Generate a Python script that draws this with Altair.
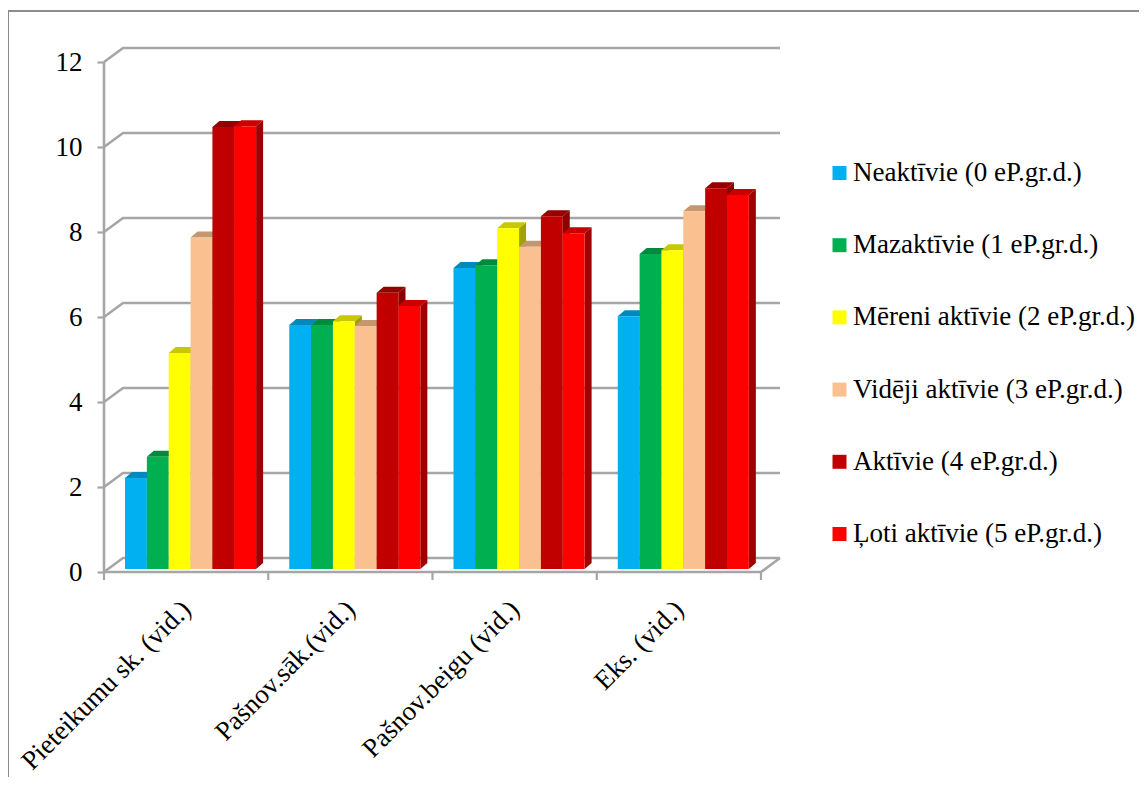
import json
import altair as alt

categories = ["Pieteikumu sk. (vid.)", "Pašnov.sāk.(vid.)", "Pašnov.beigu (vid.)", "Eks. (vid.)"]
series = ["Neaktīvie (0 eP.gr.d.)", "Mazaktīvie (1 eP.gr.d.)", "Mēreni aktīvie (2 eP.gr.d.)",
          "Vidēji aktīvie (3 eP.gr.d.)", "Aktīvie (4 eP.gr.d.)", "Ļoti aktīvie (5 eP.gr.d.)"]
neaktivie = [2.14, 5.74, 7.08, 5.95]
mazaktivie = [2.64, 5.74, 7.15, 7.41]
mereni = [5.08, 5.83, 8.02, 7.50]
videji = [7.80, 5.72, 7.58, 8.42]
aktivie = [10.40, 6.50, 8.30, 8.96]
loti = [10.42, 6.19, 7.90, 8.80]
all_values = [neaktivie, mazaktivie, mereni, videji, aktivie, loti]
front_colors = ["#00B0F0", "#00B050", "#FFFF00", "#FAC090", "#C00000", "#FF0000"]
top_colors = ["#008ABC", "#008A3E", "#C8C800", "#C49771", "#960000", "#C80000"]
side_colors = ["#006F98", "#006F32", "#A1A100", "#9E7A5B", "#8C0000", "#A00000"]
y_ticks = [0, 2, 4, 6, 8, 10, 12]

# scale geometry: px per unit
PX_X, PX_Y = 164.25, 42.5
W, H = 677, 525
wall_dx, wall_dy = 19 / PX_X, 14 / PX_Y      # depth of the 3-D box
bar_dx, bar_dy = 7 / PX_X, 6 / PX_Y          # depth of a bar
bar_w = 21.85 / PX_X
gap = 21 / PX_X
base = 3 / PX_Y

xs = alt.Scale(domain=[0, W / PX_X], nice=False, zero=False)
ys = alt.Scale(domain=[0, H / PX_Y], nice=False, zero=False)

front, tops, sides = [], [], []
for g in range(len(categories)):
    for s, vals in enumerate(all_values):
        v = vals[g] + base
        x0 = g + gap + s * bar_w
        x1 = x0 + bar_w
        i = f"{g}-{s}"
        front.append(dict(x=x0, x2=x1, y=base, y2=v, name=series[s]))
        for xx, a, b in [(x0, v, v), (x0 + bar_dx, v, v + bar_dy),
                         (x1, v, v + bar_dy), (x1 + bar_dx, v + bar_dy, v + bar_dy)]:
            tops.append(dict(x=xx, y=a, y2=b, id=i, c=top_colors[s]))
        for xx, a, b in [(x1, base, v), (x1 + bar_dx, base + bar_dy, v + bar_dy)]:
            sides.append(dict(x=xx, y=a, y2=b, id=i, c=side_colors[s]))

lines = []
right = len(categories)
for t in y_ticks:
    lines += [dict(x=0, y=t, id=f"g{t}"), dict(x=wall_dx, y=t + wall_dy, id=f"g{t}"),
              dict(x=right + wall_dx, y=t + wall_dy, id=f"g{t}")]
lines += [dict(x=0, y=0, id="floor"), dict(x=right, y=0, id="floor"),
          dict(x=right + wall_dx, y=wall_dy, id="floor")]
lines += [dict(x=0, y=0, id="axis"), dict(x=0, y=12, id="axis")]

GREY = "#A6A6A6"
FONT = "Liberation Serif"
FS = 27
label_expr = json.dumps(categories) + "[floor(datum.value)]"
X = alt.X("x:Q", scale=xs, title=None, axis=alt.Axis(
    values=[g + 0.5 for g in range(len(categories))], labelExpr=label_expr,
    domain=False, ticks=False, grid=False, labelAngle=-45, labelAlign="right",
    labelBaseline="middle", labelFont=FONT, labelFontSize=FS, labelColor="black",
    labelPadding=33, labelLimit=400, labelOverlap=False, labelBound=False, labelFlush=False))
Y = alt.Y("y:Q", scale=ys, title=None, axis=alt.Axis(
    values=y_ticks, domain=False, grid=False, tickColor=GREY, tickSize=7, tickWidth=2.2,
    labelFont=FONT, labelFontSize=FS, labelColor="black", labelPadding=15,
    labelBaseline="middle", format="d"))

grid = alt.Chart(alt.Data(values=lines)).mark_line(color=GREY, strokeWidth=2.6, clip=False).encode(
    x=X, y=Y, detail="id:N", order=alt.Order("x:Q"))
ticks = alt.Chart(alt.Data(values=[dict(x=i) for i in range(len(categories) + 1)])).mark_rule(
    color=GREY, strokeWidth=2.2).encode(x=X, y=alt.value(H), y2=alt.value(H + 8))
side = alt.Chart(alt.Data(values=sides)).mark_area(orient="vertical", clip=False).encode(
    x=X, y=Y, y2="y2:Q", detail="id:N", color=alt.Color("c:N", scale=None))
top = alt.Chart(alt.Data(values=tops)).mark_area(orient="vertical", clip=False).encode(
    x=X, y=Y, y2="y2:Q", detail="id:N", color=alt.Color("c:N", scale=None))
bars = alt.Chart(alt.Data(values=front)).mark_rect(clip=False).encode(
    x=X, x2="x2:Q", y=Y, y2="y2:Q",
    color=alt.Color("name:N", scale=alt.Scale(domain=series, range=front_colors), legend=alt.Legend(
        orient="none", legendX=722, legendY=112.5, title=None, symbolType="square", symbolSize=196,
        symbolStrokeWidth=0, labelFont=FONT, labelFontSize=FS, labelColor="black", labelLimit=500,
        labelOffset=0, rowPadding=44.2, padding=0)))
one = alt.Data(values=[dict(a=1)])
frame_l = alt.Chart(one).mark_rule(color="#8C8C8C", strokeWidth=2).encode(
    x=alt.value(-96), y=alt.value(-36), y2=alt.value(730))
frame_t = alt.Chart(one).mark_rule(color="#8C8C8C", strokeWidth=2).encode(
    x=alt.value(-96), x2=alt.value(1043), y=alt.value(-36))

chart = alt.layer(frame_l, frame_t, grid, ticks, side, top, bars).resolve_scale(color="independent").properties(
    width=W, height=H, autosize="none", background="white",
    padding={"left": 96, "top": 39, "right": 358, "bottom": 205},
).configure_view(stroke=None)
chart.save("out.html", embed_options={"renderer": "svg", "actions": False})
